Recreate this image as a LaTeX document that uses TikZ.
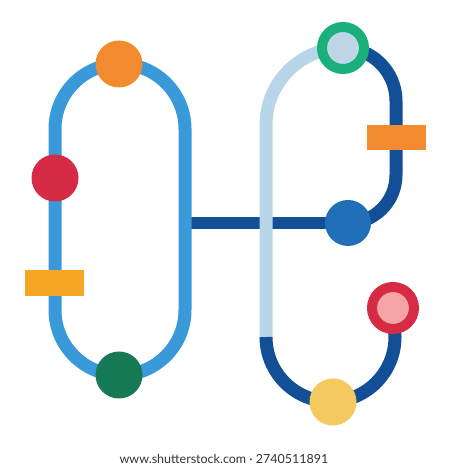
\documentclass[tikz,border=0pt]{standalone}
\usepackage{fontspec}
\setmainfont{Lato}
\usetikzlibrary{backgrounds}

\definecolor{loopblue}{RGB}{58,154,217}
\definecolor{darkline}{RGB}{18,79,150}
\definecolor{paleline}{RGB}{185,213,232}
\definecolor{dotorange}{RGB}{242,138,48}
\definecolor{dotred}{RGB}{214,43,69}
\definecolor{tagyellow}{RGB}{245,166,35}
\definecolor{dotgreen}{RGB}{21,122,85}
\definecolor{ringgreen}{RGB}{27,176,122}
\definecolor{ringfill}{RGB}{190,214,230}
\definecolor{dotblue}{RGB}{31,112,184}
\definecolor{dotpink}{RGB}{245,163,166}
\definecolor{dotyellow}{RGB}{244,201,93}

\tikzset{
    dot/.style={circle, inner sep=0pt, minimum size=47pt},
    ringdot/.style={circle, inner sep=0pt, minimum size=42pt, line width=10pt},
    tagbox/.style={rectangle, inner sep=0pt, minimum width=59pt, minimum height=26pt},
    track/.style={line width=13pt}
}

\begin{document}
\begin{tikzpicture}[x=1pt,y=1pt]
        \useasboundingbox (0,0) rectangle (450,470);

        % Stops on the left loop
        \node[dot, fill=dotorange] (toporange) at (119,406) {};
        \node[dot, fill=dotred] (leftred) at (55,292) {};
        \node[tagbox, fill=tagyellow] (lefttag) at (54,187) {};
        \node[dot, fill=dotgreen] (bottomgreen) at (119,95) {};

        % Stops on the right track
        \node[ringdot, draw=ringgreen, fill=ringfill] (topring) at (343,422) {};
        \node[tagbox, fill=dotorange, minimum height=25pt] (righttag) at (396,332) {};
        \node[dot, fill=dotblue, minimum size=46pt] (midblue) at (348,247) {};
        \node[ringdot, draw=dotred, fill=dotpink] (endring) at (393,162) {};
        \node[dot, fill=dotyellow] (bottomyellow) at (333,68) {};

        % Where the cross line leaves the left loop
        \coordinate (junction) at (185,247);

        \begin{pgfonlayer}{background}
        % Cross line
        \draw[track, line width=12pt, draw=darkline] (junction) -- (midblue.center);

        % Left loop
        \draw[track, draw=loopblue] (55,160) -- (55,341) arc (180:0:65) -- (185,160) arc (0:-180:65) -- cycle;

        % Pale line from the top ring down
        \draw[track, draw=paleline] (topring.center) arc (90:180:77) -- (266,133);

        % Dark line over the top right
        \draw[track, draw=darkline] (topring.center) arc (90:0:53) -- (396,295) arc (0:-90:48) -- (midblue.center);

        % Dark line round the bottom right
        \draw[track, draw=darkline] (266,133) arc (180:360:64.5) -- (endring.center);
        \end{pgfonlayer}

        % Footer
        \node[text=black!80, font=\fontsize{12.5}{14}\selectfont] (footer) at (224,11) {www.shutterstock.com · 2740511891};
\end{tikzpicture}
\end{document}
